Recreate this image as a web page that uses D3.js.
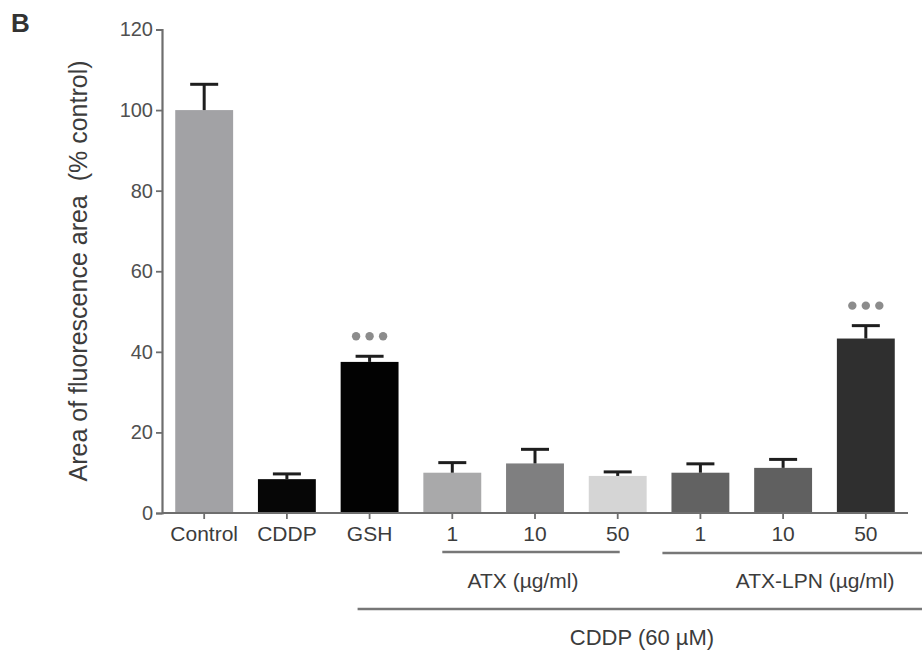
<!DOCTYPE html>
<html>
<head>
<meta charset="utf-8">
<script src="https://cdn.jsdelivr.net/npm/d3@7"></script>
<style>
  html, body { margin: 0; padding: 0; background: #fff; }
  svg { display: block; font-family: "Liberation Sans", Arial, Helvetica, sans-serif; }
</style>
</head>
<body>
<svg id="chart" width="922" height="652"></svg>
<script>
// ---- data ----
const categories = ["Control", "CDDP", "GSH", "1", "10", "50", "1", "10", "50"];
const values = [100, 8.4, 37.5, 10.0, 12.3, 9.2, 10.0, 11.2, 43.3];
const errors = [6.4, 1.3, 1.4, 2.5, 3.5, 1.0, 2.2, 2.1, 3.2];
const significant = [false, false, true, false, false, false, false, false, true];
const yTicks = [0, 20, 40, 60, 80, 100, 120];
const groupLabels = ["ATX (\u00b5g/ml)", "ATX-LPN (\u00b5g/ml)", "CDDP (60 \u00b5M)"];
const yLabel = "Area of fluorescence area \u00a0(% control)";
const panelLabel = "B";

// ---- styles ----
const barColors = ["#a2a2a5", "#060606", "#020202", "#a9a9aa", "#7f7f80", "#d5d5d5", "#626262", "#606060", "#2f2f2f"];
const axisColor = "#6e6e6e";
const textColor = "#3c3c3c";

const svg = d3.select("#chart");
const plotLeft = 162, plotRight = 908, plotTop = 29.5, plotBottom = 513;

const idx = d3.range(categories.length);
const x = d3.scaleBand().domain(idx).range([plotLeft, plotRight]).paddingInner(0.3).paddingOuter(0.16);
const y = d3.scaleLinear().domain([0, 120]).range([plotBottom, plotTop]);
const cx = i => x(i) + x.bandwidth() / 2;

// bars
svg.append("g").selectAll("rect").data(idx).join("rect")
  .attr("x", i => x(i))
  .attr("y", i => y(values[i]))
  .attr("width", x.bandwidth())
  .attr("height", i => y(0) - y(values[i]))
  .attr("fill", i => barColors[i]);

// error bars (upper only)
const eb = svg.append("g").attr("stroke", "#1e1e1e").attr("stroke-width", 3);
idx.forEach(i => {
  eb.append("line").attr("x1", cx(i)).attr("x2", cx(i))
    .attr("y1", y(values[i])).attr("y2", y(values[i] + errors[i]));
  eb.append("line").attr("x1", cx(i) - 14).attr("x2", cx(i) + 14)
    .attr("y1", y(values[i] + errors[i])).attr("y2", y(values[i] + errors[i]));
});

// significance marks
idx.filter(i => significant[i]).forEach(i => {
  const cy = y(values[i] + errors[i]) - 20;
  [-13.5, 0, 13.5].forEach(dx => {
    svg.append("circle").attr("cx", cx(i) + dx).attr("cy", cy).attr("r", 4.2).attr("fill", "#8c8c8c");
  });
});

// y axis
const yAxis = svg.append("g").attr("transform", `translate(${plotLeft},0)`)
  .call(d3.axisLeft(y).tickValues(yTicks).tickSize(6).tickPadding(3));
yAxis.select(".domain").attr("stroke", axisColor).attr("stroke-width", 2.2);
yAxis.selectAll(".tick line").attr("stroke", axisColor).attr("stroke-width", 1.8);
yAxis.selectAll(".tick text").attr("fill", "#505050").attr("font-size", 20)
  .attr("font-family", "Liberation Sans, Arial, sans-serif");

// x axis
const xAxis = svg.append("g").attr("transform", `translate(0,${plotBottom})`)
  .call(d3.axisBottom(x).tickFormat(i => categories[i]).tickSize(6).tickSizeOuter(0).tickPadding(7));
xAxis.select(".domain").attr("stroke", axisColor).attr("stroke-width", 2.2)
  .attr("d", `M${plotLeft},0H${plotRight}`);
xAxis.selectAll(".tick line").attr("stroke", axisColor).attr("stroke-width", 1.8);
xAxis.selectAll(".tick text").attr("fill", textColor).attr("font-size", 21)
  .attr("font-family", "Liberation Sans, Arial, sans-serif");

// group brackets
const lineG = svg.append("g").attr("stroke", "#777").attr("stroke-width", 2.6);
lineG.append("line").attr("x1", cx(3) - 10).attr("x2", cx(5) + 2).attr("y1", 552).attr("y2", 552);
lineG.append("line").attr("x1", cx(6) - 38).attr("x2", 922).attr("y1", 553).attr("y2", 553);
lineG.append("line").attr("x1", cx(2) - 12).attr("x2", 922).attr("y1", 609).attr("y2", 609);

svg.append("text").attr("x", (cx(3) + cx(5)) / 2 - 12).attr("y", 588).attr("text-anchor", "middle")
  .attr("font-size", 21).attr("fill", textColor).text(groupLabels[0]);
svg.append("text").attr("x", cx(7) + 32).attr("y", 588).attr("text-anchor", "middle")
  .attr("font-size", 21).attr("fill", textColor).text(groupLabels[1]);
svg.append("text").attr("x", 642).attr("y", 645).attr("text-anchor", "middle")
  .attr("font-size", 22).attr("fill", textColor).text(groupLabels[2]);

// y label
svg.append("text").attr("transform", "translate(87,271) rotate(-90)")
  .attr("text-anchor", "middle").attr("font-size", 25).attr("fill", textColor).text(yLabel);

// panel label
svg.append("text").attr("x", 11).attr("y", 32).attr("font-size", 26).attr("font-weight", "bold")
  .attr("fill", "#333").text(panelLabel);
</script>
</body>
</html>
